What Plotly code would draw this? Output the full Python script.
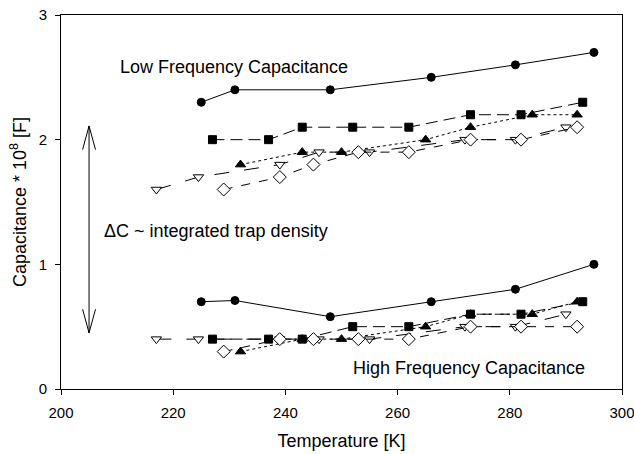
import plotly.graph_objects as go

# ---- data (Temperature [K], Capacitance * 1e8 [F]) ----
lf_circle_x = [225, 231, 248, 266, 281, 295]
lf_circle_y = [2.3, 2.4, 2.4, 2.5, 2.6, 2.7]
lf_square_x = [227, 237, 243, 252, 262, 273, 282, 293]
lf_square_y = [2.0, 2.0, 2.1, 2.1, 2.1, 2.2, 2.2, 2.3]
lf_tri_x = [232, 243, 250, 265, 273, 284, 292]
lf_tri_y = [1.8, 1.9, 1.9, 2.0, 2.1, 2.2, 2.2]
lf_dtri_x = [217, 224.5, 239, 246, 255, 272, 281, 290]
lf_dtri_y = [1.6, 1.7, 1.8, 1.9, 1.9, 2.0, 2.0, 2.1]
lf_diam_x = [229, 239, 245, 253, 262, 273, 282, 292]
lf_diam_y = [1.6, 1.7, 1.8, 1.9, 1.9, 2.0, 2.0, 2.1]

hf_circle_x = [225, 231, 248, 266, 281, 295]
hf_circle_y = [0.7, 0.71, 0.58, 0.7, 0.8, 1.0]
hf_square_x = [227, 237, 243, 252, 262, 273, 282, 293]
hf_square_y = [0.4, 0.4, 0.4, 0.5, 0.5, 0.6, 0.6, 0.7]
hf_tri_x = [232, 243, 250, 265, 273, 284, 292]
hf_tri_y = [0.3, 0.4, 0.4, 0.5, 0.6, 0.6, 0.7]
hf_dtri_x = [217, 224.5, 239, 246, 255, 272, 281, 290]
hf_dtri_y = [0.4, 0.4, 0.4, 0.4, 0.4, 0.5, 0.5, 0.6]
hf_diam_x = [229, 239, 245, 253, 262, 273, 282, 292]
hf_diam_y = [0.3, 0.4, 0.4, 0.4, 0.4, 0.5, 0.5, 0.5]

x_ticks = [200, 220, 240, 260, 280, 300]
y_ticks = [0, 1, 2, 3]

FONT = "Liberation Sans, Arial, sans-serif"

styles = [
    ("circle", "black", "solid", 8),
    ("square", "black", "12px,6px", 8),
    ("triangle-up", "black", "dot", 9),
    ("triangle-down", "white", "longdash", 9),
    ("diamond", "white", "dash", 10),
]

series = [
    (lf_circle_x, lf_circle_y, hf_circle_x, hf_circle_y),
    (lf_square_x, lf_square_y, hf_square_x, hf_square_y),
    (lf_tri_x, lf_tri_y, hf_tri_x, hf_tri_y),
    (lf_dtri_x, lf_dtri_y, hf_dtri_x, hf_dtri_y),
    (lf_diam_x, lf_diam_y, hf_diam_x, hf_diam_y),
]

fig = go.Figure()
for (sym, fill, dash, size), (lx, ly, hx, hy) in zip(styles, series):
    for xs, ys in ((lx, ly), (hx, hy)):
        fig.add_trace(go.Scatter(
            x=xs, y=ys, mode="lines+markers", showlegend=False,
            line=dict(color="black", width=1, dash=dash),
            marker=dict(symbol=sym, size=size, color=fill,
                        line=dict(color="black", width=1)),
        ))

# double-headed arrow (open V heads)
ax_x = 205
y_top, y_bot = 2.11, 0.45
hw, hl = 1.15, 0.19
fig.add_shape(type="line", x0=ax_x, x1=ax_x, y0=y_bot, y1=y_top,
              line=dict(color="black", width=1))
fig.add_shape(type="path",
              path=f"M {ax_x-hw},{y_top-hl} L {ax_x},{y_top} L {ax_x+hw},{y_top-hl}",
              line=dict(color="black", width=1))
fig.add_shape(type="path",
              path=f"M {ax_x-hw},{y_bot+hl} L {ax_x},{y_bot} L {ax_x+hw},{y_bot+hl}",
              line=dict(color="black", width=1))

TXT = dict(size=18, color="black", family=FONT)
fig.add_annotation(x=230.8, y=2.58, text="Low Frequency Capacitance",
                   showarrow=False, font=TXT)
fig.add_annotation(x=272.7, y=0.171, text="High Frequency Capacitance",
                   showarrow=False, font=TXT)
fig.add_annotation(x=227.7, y=1.27, text="ΔC ~ integrated trap density",
                   showarrow=False, font=TXT)

fig.update_layout(
    width=634, height=454,
    margin=dict(l=61, r=12, t=15, b=65),
    paper_bgcolor="white", plot_bgcolor="white",
    font=dict(family=FONT, size=15, color="black"),
    xaxis=dict(range=[200, 300], tickvals=x_ticks, ticks="outside", ticklen=5,
               tickcolor="black", showline=True, linecolor="black", linewidth=1,
               mirror=True, showgrid=False, zeroline=False, automargin=False,
               ticklabelstandoff=5, ticklabeloverflow="allow",
               title=dict(text="Temperature [K]", font=dict(size=18), standoff=14),
               tickfont=dict(size=15)),
    yaxis=dict(range=[0, 3], tickvals=y_ticks, ticks="outside", ticklen=5,
               tickcolor="black", showline=True, linecolor="black", linewidth=1,
               mirror=True, showgrid=False, zeroline=False, automargin=False,
               ticklabelstandoff=5, ticklabeloverflow="allow",
               title=dict(text="Capacitance * 10<sup>8</sup> [F]", font=dict(size=18), standoff=7),
               tickfont=dict(size=15)),
)

fig.write_html("out.html", config={"displayModeBar": False},
               post_script="document.body.style.margin='0';document.body.style.overflow='hidden';")
